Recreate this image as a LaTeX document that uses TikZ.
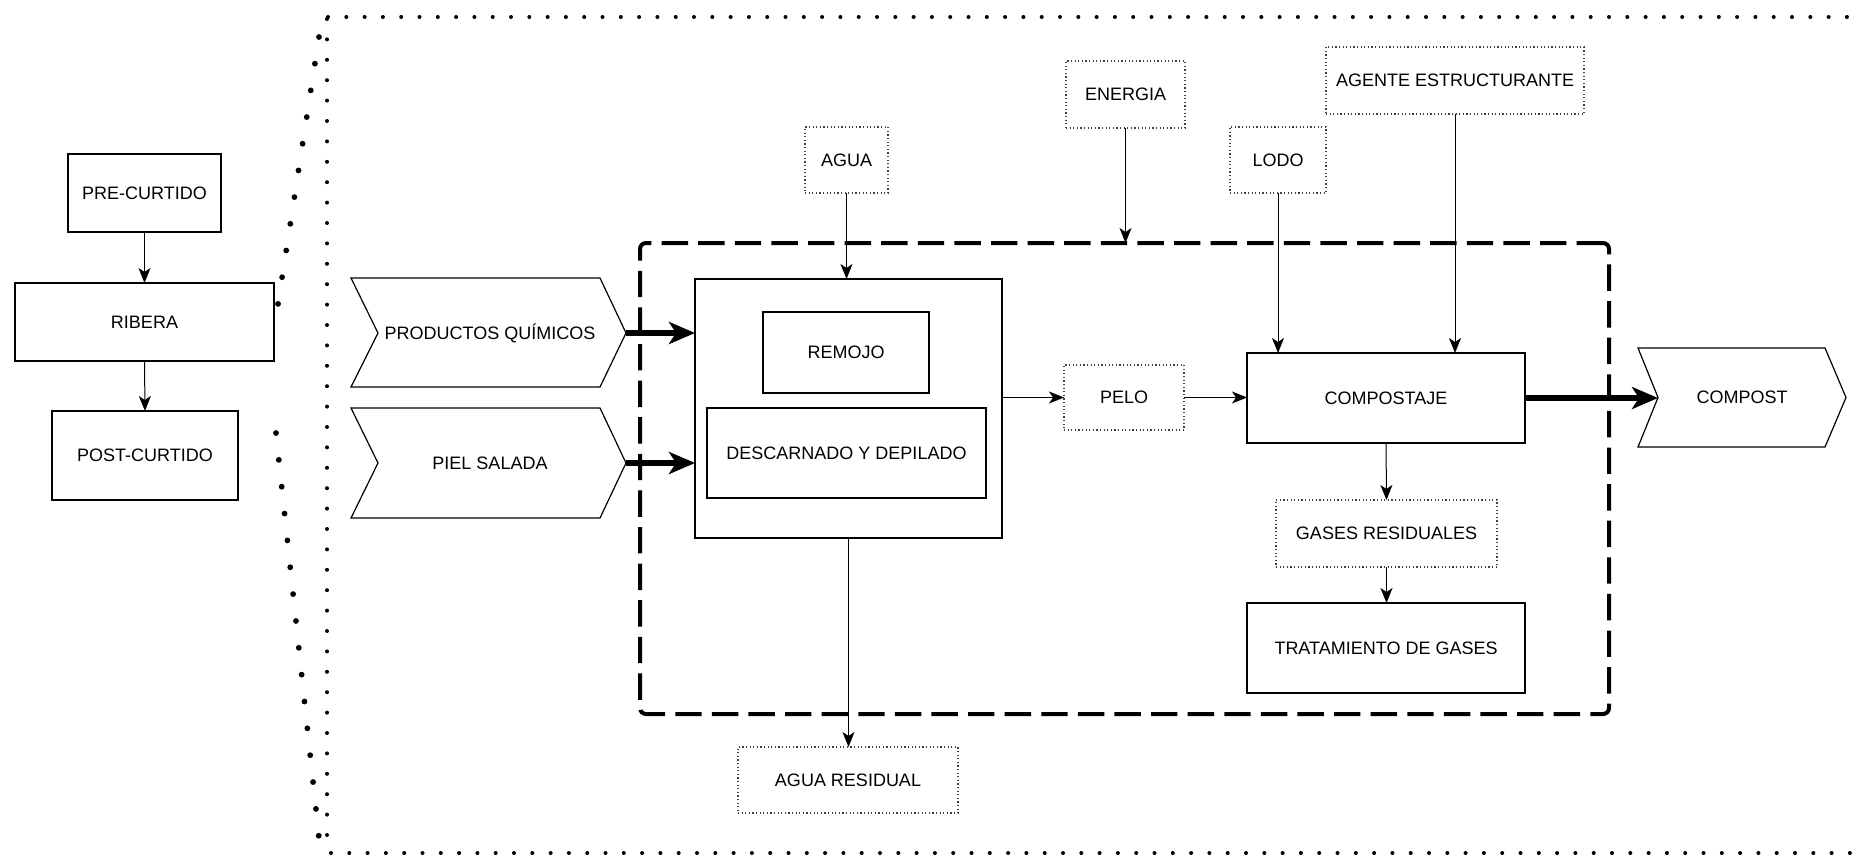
\documentclass[tikz,border=0pt]{standalone}
\usepackage{fontspec}
\setmainfont{Liberation Sans}
\usetikzlibrary{arrows.meta}
\begin{document}
\begin{tikzpicture}[x=0.5pt,y=-0.5pt,
  every node/.style={font=\fontsize{9pt}{11pt}\selectfont, inner sep=0pt, outer sep=0pt},
  box/.style={draw, line width=0.6pt, align=center},
  dotbox/.style={draw=black!75, line width=0.6pt, dash pattern=on 0.6pt off 1.2pt, align=center},
  conn/.style={line width=0.5pt, -{Stealth[length=7.5pt,width=6pt,inset=2pt]}},
  thickconn/.style={line width=2.8pt, -{Stealth[length=13pt,width=11pt,inset=3.5pt]}},
  chev/.style={line width=0.6pt, line join=miter},
  region/.style={draw, line width=2pt, dash pattern=on 13.2pt off 5.1pt, rounded corners=3pt},
  framedots/.style={line width=2pt, line cap=round, dash pattern=on 0pt off 9.15pt},
  framedotsv/.style={line width=2pt, line cap=round, dash pattern=on 0pt off 10.2pt},
  bracedots/.style={line width=2.9pt, line cap=round, dash pattern=on 0pt off 13.5pt},
]
\useasboundingbox[fill=white] (0,0) rectangle (1856,856);

% dotted frame
\draw[framedots] (328,17) -- (1862,17);
\draw[framedotsv] (327,19) -- (327,838);
\draw[framedots] (331,853) -- (1862,853);
% dotted bracket
\draw[bracedots] (319,37) -- (278,304);
\draw[bracedots] (276,433) -- (319,838);

% left column
\node[box, minimum width=76.5pt, minimum height=39pt] (pre) at (144.5,193) {PRE-CURTIDO};
\node[box, minimum width=129.5pt, minimum height=39pt] (ribera) at (144.5,322) {RIBERA};
\node[box, minimum width=93pt, minimum height=44.5pt] (post) at (145,455.5) {POST-CURTIDO};
\draw[conn] (pre.south) -- (ribera.north);
\draw[conn] (ribera.south) -- (post.north);

% system boundary
\node[region, minimum width=484.5pt, minimum height=235.5pt] (region) at (1124.5,478.5) {};

% inputs
\node[dotbox, minimum width=41.5pt, minimum height=33pt] (agua) at (846.5,160) {AGUA};
\node[dotbox, minimum width=59.5pt, minimum height=33.5pt] (energia) at (1125.5,94.5) {ENERGIA};
\node[dotbox, minimum width=48pt, minimum height=33pt] (lodo) at (1278,160) {LODO};
\node[dotbox, minimum width=129pt, minimum height=33.5pt] (agente) at (1455,80.5) {AGENTE ESTRUCTURANTE};

% process boxes
\node[box, minimum width=153.5pt, minimum height=129.5pt] (big) at (848.5,408.5) {};
\node[box, minimum width=83pt, minimum height=40.5pt] (remojo) at (846,352.5) {REMOJO};
\node[box, minimum width=139.5pt, minimum height=45pt] (descarnado) at (846.5,453) {DESCARNADO Y DEPILADO};
\node[dotbox, minimum width=60pt, minimum height=32.5pt] (pelo) at (1124,397.5) {PELO};
\node[box, minimum width=139pt, minimum height=45pt] (compostaje) at (1386,398) {COMPOSTAJE};
\node[dotbox, minimum width=110.5pt, minimum height=33.5pt] (gases) at (1386.5,533.5) {GASES RESIDUALES};
\node[box, minimum width=139pt, minimum height=45pt] (trat) at (1386,648) {TRATAMIENTO DE GASES};
\node[dotbox, minimum width=110pt, minimum height=33pt] (aguares) at (848,780) {AGUA RESIDUAL};

% chevrons
\draw[chev] (351,278) -- (600,278) -- (626,333) -- (600,387) -- (351,387) -- (378,333) -- cycle;
\node (prod) at (490,333) {PRODUCTOS QUÍMICOS};
\coordinate (prodtip) at (626,333);
\draw[chev] (351,408) -- (600,408) -- (626,463) -- (600,518) -- (351,518) -- (378,463) -- cycle;
\node (piel) at (490,463) {PIEL SALADA};
\coordinate (pieltip) at (626,463);
\draw[chev] (1638,348) -- (1825,348) -- (1846,397.5) -- (1825,447) -- (1638,447) -- (1658,397.5) -- cycle;
\node (compost) at (1742,397.5) {COMPOST};
\coordinate (compostnotch) at (1658,397.5);

% connectors
\draw[conn] (agua.south) -- (agua.south |- big.north);
\draw[conn] (energia.south) -- (energia.south |- region.north);
\draw[conn] (lodo.south) -- (lodo.south |- compostaje.north);
\draw[conn] (agente.south) -- (agente.south |- compostaje.north);
\draw[conn] (big.east |- pelo.west) -- (pelo.west);
\draw[conn] (pelo.east) -- (pelo.east -| compostaje.west);
\draw[conn] (compostaje.south) -- (gases.north);
\draw[conn] (gases.south) -- (gases.south |- trat.north);
\draw[conn] (big.south) -- (big.south |- aguares.north);
\draw[thickconn] (prodtip) -- (prodtip -| big.west);
\draw[thickconn] (pieltip) -- (pieltip -| big.west);
\draw[thickconn] (compostaje.east) -- (compostaje.east -| compostnotch);
\end{tikzpicture}
\end{document}
